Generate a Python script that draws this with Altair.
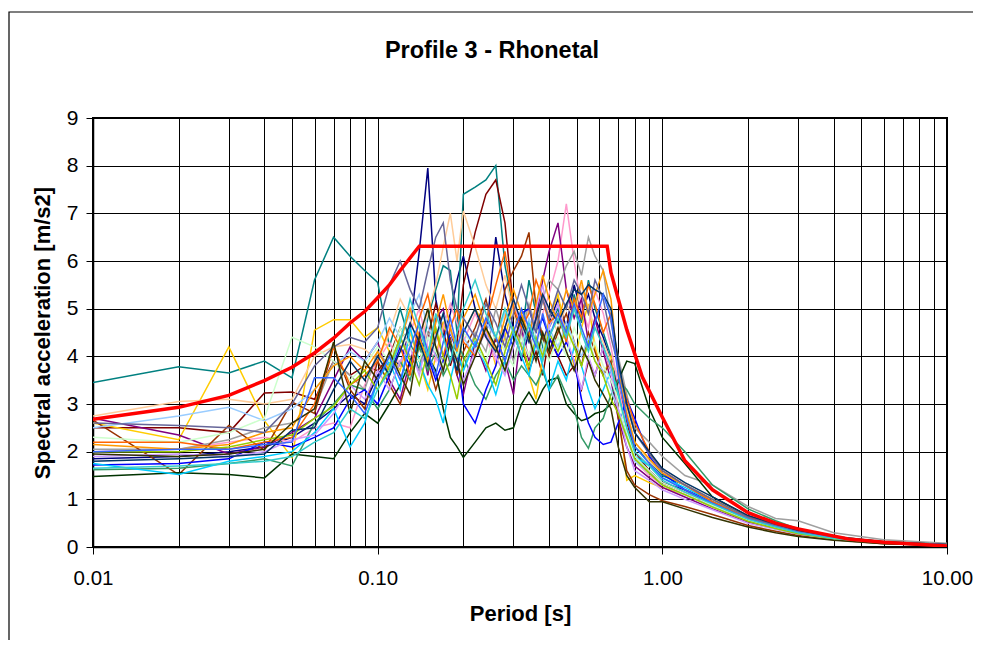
import altair as alt
import pandas as pd

# Period grid shared by the recorded spectra [s]
periods = [0.01, 0.02, 0.03, 0.04, 0.05, 0.06, 0.07, 0.08, 0.09, 0.10,
           0.11, 0.12, 0.13, 0.14, 0.15, 0.16, 0.17, 0.18, 0.19, 0.20,
           0.22, 0.24, 0.26, 0.28, 0.30, 0.32, 0.34, 0.36, 0.38, 0.40,
           0.43, 0.46, 0.49, 0.52, 0.55, 0.58, 0.62, 0.66, 0.70, 0.75, 0.80,
           0.90, 1.0, 1.2, 1.5, 2.0, 2.5, 3.0, 4.0, 6.0, 10.0]

# Design (target) spectrum, red
red_periods = [0.01, 0.02, 0.03, 0.04, 0.05, 0.06, 0.07, 0.08, 0.09, 0.10,
               0.11, 0.12, 0.14, 0.64, 0.66, 0.75, 0.85, 1.0, 1.2, 1.5,
               2.0, 2.5, 3.0, 4.5, 6.0, 10.0]
red_values = [2.68, 2.93, 3.18, 3.49, 3.77, 4.07, 4.38, 4.7, 4.94, 5.23,
              5.5, 5.8, 6.31, 6.31, 5.76, 4.56, 3.57, 2.72, 1.81, 1.2,
              0.72, 0.5, 0.38, 0.17, 0.1, 0.02]

navy = ([1.85, 1.9, 2.0, 2.1, 2.3, 2.6, 2.9, 3.2, 3.0, 3.6]
        + [4.0, 3.8, 4.6, 6.2, 7.95, 5.2, 4.4, 4.9, 5.6, 6.1]
        + [5.0, 4.4, 6.5, 5.3, 4.6, 3.9, 4.5, 5.0, 4.3, 4.7]
        + [5.2, 4.6, 5.5, 4.9, 5.3, 4.8, 4.4, 3.9, 3.2, 2.4, 1.9]
        + [1.6, 1.35, 1.2, 0.95, 0.6, 0.44, 0.32, 0.2, 0.1, 0.045])
teal = ([3.45, 3.78, 3.65, 3.9, 3.55, 5.6, 6.5, 6.1, 5.8, 5.55]
        + [4.2, 5.0, 4.3, 3.7, 4.8, 5.4, 5.9, 5.8, 4.5, 7.4]
        + [7.55, 7.7, 8.0, 5.9, 5.0, 4.4, 5.6, 4.9, 4.2, 4.6]
        + [5.0, 4.3, 5.3, 4.7, 5.6, 5.0, 4.5, 4.0, 3.3, 2.7, 2.1]
        + [1.8, 1.5, 1.3, 1.0, 0.62, 0.45, 0.33, 0.21, 0.1, 0.05])
darkred = ([2.5, 2.5, 2.4, 3.23, 3.25, 3.1, 3.9, 3.6, 3.8, 3.7]
           + [4.0, 4.6, 4.2, 3.9, 4.4, 5.1, 4.6, 3.8, 4.3, 5.5]
           + [6.6, 7.4, 7.7, 6.8, 5.0, 4.2, 3.7, 4.1, 3.6, 4.4]
           + [4.0, 3.6, 3.8, 3.3, 3.9, 3.6, 4.2, 3.7, 3.4, 2.6, 2.0]
           + [1.6, 1.35, 1.15, 0.9, 0.58, 0.42, 0.3, 0.19, 0.1, 0.045])
gold = ([2.6, 2.25, 4.2, 2.65, 1.88, 4.55, 4.77, 4.77, 4.4, 4.6]
        + [4.1, 3.7, 4.5, 3.9, 3.3, 4.0, 4.7, 4.3, 3.6, 4.5]
        + [5.0, 4.6, 3.8, 4.4, 5.1, 4.5, 3.6, 3.1, 4.0, 4.8]
        + [5.3, 4.4, 3.8, 4.6, 5.1, 4.2, 3.6, 4.0, 2.9, 1.4, 1.5]
        + [1.35, 1.25, 1.1, 0.85, 0.55, 0.4, 0.3, 0.18, 0.09, 0.04])
tan = ([2.75, 3.05, 3.1, 3.0, 3.1, 4.0, 4.2, 4.25, 4.15, 3.9]
       + [4.5, 5.2, 4.8, 4.1, 4.9, 5.5, 6.3, 7.0, 6.0, 7.05]
       + [6.3, 5.5, 5.0, 5.7, 4.9, 4.4, 5.0, 4.6, 5.3, 4.9]
       + [4.5, 5.1, 4.8, 5.5, 5.0, 4.6, 4.3, 3.9, 3.6, 2.9, 2.2]
       + [1.8, 1.55, 1.3, 1.0, 0.63, 0.46, 0.34, 0.21, 0.11, 0.05])
rose = ([2.0, 2.05, 2.2, 2.3, 2.2, 2.5, 2.6, 2.5, 3.4, 3.9]
        + [4.3, 3.8, 4.5, 5.0, 4.2, 3.9, 4.6, 5.1, 4.7, 4.3]
        + [4.9, 4.4, 3.9, 4.6, 5.2, 4.5, 4.0, 4.3, 4.9, 5.3]
        + [6.0, 7.2, 6.0, 5.0, 4.6, 5.4, 4.9, 4.2, 3.4, 2.5, 1.8]
        + [1.5, 1.3, 1.1, 0.85, 0.55, 0.4, 0.29, 0.18, 0.09, 0.04])
purple = ([2.7, 2.35, 1.95, 2.1, 2.4, 2.7, 3.5, 4.2, 3.9, 4.3]
          + [3.5, 3.1, 3.9, 4.5, 3.6, 4.8, 5.0, 4.2, 3.6, 3.2]
          + [4.3, 3.7, 4.4, 3.9, 3.2, 4.6, 3.9, 4.8, 5.6, 6.2]
          + [6.8, 5.4, 4.8, 5.2, 4.3, 4.8, 4.1, 3.5, 2.7, 2.1, 1.7]
          + [1.45, 1.25, 1.05, 0.8, 0.52, 0.38, 0.28, 0.17, 0.09, 0.04])
gray = ([2.05, 2.05, 2.25, 2.5, 2.6, 2.9, 3.9, 3.6, 3.3, 4.1]
        + [3.8, 4.4, 4.0, 3.7, 4.5, 4.2, 3.9, 4.6, 4.1, 3.7]
        + [4.5, 4.1, 5.0, 4.4, 3.9, 4.5, 5.1, 4.6, 5.2, 5.6]
        + [5.4, 5.9, 6.2, 5.7, 6.5, 6.1, 5.8, 4.7, 4.0, 3.2, 2.5]
        + [2.2, 1.9, 1.5, 1.3, 0.85, 0.6, 0.55, 0.3, 0.15, 0.08])
brown = ([2.66, 1.52, 2.55, 2.03, 3.04, 2.8, 4.2, 3.3, 2.9, 3.9]
         + [3.4, 3.0, 3.7, 4.3, 3.9, 3.3, 3.8, 4.4, 3.6, 4.1]
         + [4.6, 5.2, 4.3, 5.4, 5.8, 6.1, 6.6, 5.0, 4.4, 4.0]
         + [4.5, 4.9, 4.3, 3.8, 4.5, 4.1, 3.6, 3.9, 2.7, 1.6, 1.3]
         + [1.1, 0.97, 0.85, 0.68, 0.45, 0.33, 0.24, 0.15, 0.07, 0.03])
darkgreen = ([1.48, 1.56, 1.52, 1.45, 1.95, 1.9, 1.85, 2.4, 2.8, 2.6]
             + [3.0, 3.4, 3.9, 4.3, 4.0, 3.7, 2.9, 2.3, 2.1, 1.88]
             + [2.2, 2.5, 2.6, 2.45, 2.5, 3.0, 3.25, 3.0, 3.3, 3.5]
             + [3.55, 3.0, 2.8, 2.65, 2.7, 2.8, 2.85, 3.0, 3.5, 3.9, 3.85]
             + [2.9, 2.3, 1.75, 1.05, 0.65, 0.47, 0.34, 0.21, 0.1, 0.045])
seagreen = ([1.62, 1.65, 1.75, 1.85, 1.7, 2.6, 3.0, 3.4, 3.3, 2.9]
            + [3.3, 3.9, 3.5, 4.2, 3.7, 4.1, 3.6, 3.9, 4.3, 4.0]
            + [3.4, 3.1, 3.6, 3.9, 3.5, 3.8, 3.6, 3.4, 3.7, 3.3]
            + [3.6, 3.2, 2.9, 2.3, 2.07, 2.5, 2.7, 3.2, 3.5, 3.3, 3.0]
            + [2.7, 2.5, 2.0, 1.3, 0.8, 0.55, 0.38, 0.22, 0.11, 0.05])
blue = ([1.72, 1.75, 1.85, 2.2, 2.1, 2.3, 2.5, 3.1, 3.3, 3.0]
        + [3.6, 4.2, 3.8, 4.4, 4.0, 3.5, 3.9, 4.5, 4.1, 3.0]
        + [2.6, 3.3, 3.8, 4.6, 4.2, 4.9, 5.0, 4.5, 4.8, 4.4]
        + [4.0, 4.3, 3.9, 3.1, 2.6, 2.3, 2.15, 2.2, 2.6, 3.1, 2.7]
        + [1.9, 1.55, 1.2, 0.9, 0.58, 0.42, 0.3, 0.19, 0.09, 0.04])
skyblue = ([1.75, 1.52, 1.8, 1.9, 2.0, 2.4, 2.9, 2.1, 2.6, 3.5]
           + [3.9, 3.3, 4.6, 3.9, 3.4, 3.1, 2.6, 3.5, 4.1, 3.7]
           + [4.3, 3.8, 3.2, 3.9, 4.5, 4.0, 3.6, 4.3, 3.8, 3.3]
           + [3.9, 3.5, 4.2, 3.8, 3.3, 2.9, 3.3, 3.7, 3.2, 2.5, 1.9]
           + [1.7, 1.45, 1.25, 0.95, 0.6, 0.43, 0.31, 0.19, 0.1, 0.045])
paleblue = ([2.5, 2.75, 2.93, 2.65, 2.9, 3.3, 3.8, 4.1, 3.9, 4.3]
            + [4.8, 4.4, 4.9, 5.3, 4.6, 4.3, 4.9, 4.5, 4.2, 4.4]
            + [4.0, 4.7, 4.4, 4.9, 4.5, 4.2, 4.8, 4.4, 4.1, 4.6]
            + [4.2, 4.7, 4.3, 4.0, 4.4, 3.9, 3.7, 3.3, 2.9, 2.3, 1.8]
            + [1.55, 1.3, 1.1, 0.85, 0.55, 0.4, 0.29, 0.18, 0.09, 0.04])
lavender = ([1.9, 1.95, 1.9, 2.0, 2.25, 2.35, 2.8, 3.4, 3.1, 3.7]
            + [3.3, 3.9, 4.2, 3.6, 4.4, 4.0, 3.7, 4.3, 3.9, 3.5]
            + [4.1, 4.5, 4.0, 3.6, 4.2, 4.7, 4.3, 5.0, 5.5, 4.6]
            + [5.1, 4.4, 3.9, 3.3, 4.0, 3.6, 4.2, 3.7, 2.9, 2.1, 1.6]
            + [1.4, 1.2, 1.0, 0.78, 0.5, 0.37, 0.27, 0.17, 0.085, 0.04])
lightgreen = ([2.3, 2.2, 2.4, 2.7, 4.4, 4.2, 3.9, 3.5, 3.8, 4.2]
              + [3.9, 4.6, 4.2, 3.9, 4.4, 4.1, 3.8, 4.3, 4.0, 4.5]
              + [4.2, 3.9, 4.5, 4.1, 3.8, 4.4, 4.0, 4.6, 4.3, 3.9]
              + [4.4, 4.0, 4.6, 4.2, 3.9, 4.3, 3.8, 3.5, 3.1, 2.4, 1.9]
              + [1.6, 1.35, 1.15, 0.88, 0.57, 0.41, 0.3, 0.18, 0.09, 0.04])
orange = ([2.2, 2.2, 2.05, 2.2, 2.3, 3.0, 4.2, 3.4, 3.6, 3.9]
          + [4.6, 4.2, 3.6, 4.8, 5.3, 4.5, 4.0, 4.6, 5.0, 4.3]
          + [4.0, 4.7, 5.5, 6.2, 5.0, 4.6, 4.9, 5.6, 5.2, 4.7]
          + [4.9, 4.3, 5.2, 4.8, 5.5, 5.1, 4.5, 4.9, 3.8, 3.1, 2.6]
          + [2.0, 1.6, 1.3, 0.95, 0.6, 0.44, 0.32, 0.2, 0.1, 0.045])
lightorange = ([2.15, 2.05, 2.15, 2.4, 2.5, 3.3, 3.8, 4.0, 3.7, 4.1]
               + [3.7, 4.3, 5.0, 4.4, 3.9, 4.7, 5.3, 4.6, 4.1, 4.8]
               + [5.3, 4.6, 4.1, 4.8, 5.4, 4.9, 4.4, 5.1, 5.7, 5.2]
               + [4.7, 5.4, 5.0, 5.6, 4.9, 5.3, 5.8, 5.2, 3.7, 2.8, 2.2]
               + [1.85, 1.55, 1.3, 1.0, 0.64, 0.46, 0.34, 0.21, 0.1, 0.05])
lime = ([2.0, 2.0, 2.1, 2.25, 2.35, 2.7, 2.95, 3.4, 3.7, 3.3]
        + [3.8, 4.4, 3.9, 3.4, 4.1, 4.6, 4.0, 3.6, 3.1, 3.9]
        + [4.4, 3.9, 3.4, 4.1, 4.6, 4.2, 3.8, 4.4, 4.0, 4.5]
        + [4.1, 4.6, 4.2, 3.8, 4.3, 3.9, 3.6, 3.1, 2.8, 2.3, 1.85]
        + [1.55, 1.3, 1.1, 0.84, 0.54, 0.39, 0.28, 0.17, 0.085, 0.04])
bluegray = ([2.6, 2.55, 2.5, 2.4, 3.0, 3.8, 4.2, 4.4, 4.3, 4.6]
            + [5.5, 6.0, 5.4, 5.0, 5.8, 6.5, 6.8, 5.6, 5.0, 4.8]
            + [4.4, 5.1, 4.7, 4.2, 4.9, 5.5, 5.0, 4.5, 5.2, 4.8]
            + [5.4, 5.0, 5.6, 5.3, 4.9, 5.6, 5.2, 4.4, 3.8, 3.0, 2.4]
            + [1.95, 1.6, 1.3, 1.0, 0.63, 0.46, 0.34, 0.21, 0.1, 0.05])
darkteal = ([1.8, 1.85, 1.9, 1.95, 2.45, 2.5, 3.3, 3.9, 3.5, 4.0]
            + [3.6, 4.1, 4.7, 4.3, 3.8, 4.4, 4.9, 4.2, 3.7, 4.5]
            + [5.0, 4.4, 4.1, 4.6, 5.2, 4.7, 4.3, 4.8, 5.3, 5.0]
            + [4.7, 5.1, 5.4, 5.3, 5.5, 5.4, 5.3, 5.0, 3.9, 3.0, 2.4]
            + [2.0, 1.65, 1.35, 1.05, 0.66, 0.48, 0.35, 0.22, 0.11, 0.05])
olive = ([1.95, 1.9, 1.95, 2.05, 2.6, 2.9, 4.3, 2.8, 3.9, 3.5]
         + [4.1, 3.6, 3.2, 4.4, 5.0, 4.2, 3.7, 4.3, 3.9, 3.4]
         + [4.0, 4.6, 4.2, 3.7, 4.3, 4.8, 4.4, 3.9, 4.5, 4.1]
         + [4.6, 4.1, 3.7, 4.2, 3.9, 3.5, 3.2, 2.9, 2.1, 1.5, 1.25]
         + [0.95, 0.95, 0.8, 0.62, 0.42, 0.3, 0.22, 0.14, 0.07, 0.03])
lightblue = ([2.0, 2.05, 2.05, 2.15, 2.2, 3.55, 3.55, 3.2, 2.8, 3.5]
             + [4.0, 3.5, 4.2, 4.7, 4.1, 3.6, 4.3, 4.8, 4.2, 4.6]
             + [4.2, 4.8, 4.4, 3.9, 4.5, 5.0, 4.6, 4.2, 4.9, 4.4]
             + [4.9, 4.5, 5.1, 4.6, 4.2, 4.7, 5.3, 4.8, 3.6, 2.7, 2.1]
             + [1.75, 1.45, 1.2, 0.92, 0.59, 0.43, 0.31, 0.19, 0.095, 0.045])
aqua = ([1.65, 1.7, 1.75, 1.8, 1.9, 2.2, 2.4, 2.9, 2.7, 3.3]
        + [3.7, 4.3, 5.2, 4.6, 4.0, 4.9, 4.4, 3.9, 4.5, 5.0]
        + [5.6, 4.9, 4.4, 5.0, 4.5, 4.0, 4.7, 4.3, 3.9, 4.4]
        + [4.8, 4.4, 5.0, 4.5, 4.1, 4.6, 4.2, 3.8, 3.2, 2.5, 2.0]
        + [1.7, 1.4, 1.15, 0.9, 0.58, 0.42, 0.3, 0.18, 0.09, 0.04])

series_names = ["navy", "teal", "darkred", "gold", "tan", "rose", "purple", "gray",
                "brown", "darkgreen", "seagreen", "blue", "skyblue", "paleblue",
                "lavender", "lightgreen", "orange", "lightorange", "lime", "bluegray",
                "darkteal", "olive", "lightblue", "aqua"]
series_colors = ["#000080", "#008080", "#800000", "#FFCC00", "#FFCC99", "#FF99CC",
                 "#800080", "#A0A0A0", "#993300", "#003300", "#339966", "#0000FF",
                 "#00CCFF", "#99CCFF", "#CC99FF", "#CCFFCC", "#FF6600", "#FF9900",
                 "#99CC00", "#666699", "#003366", "#333300", "#3366FF", "#33CCCC"]
series_values = [navy, teal, darkred, gold, tan, rose, purple, gray, brown, darkgreen,
                 seagreen, blue, skyblue, paleblue, lavender, lightgreen, orange,
                 lightorange, lime, bluegray, darkteal, olive, lightblue, aqua]

x_ticks = [0.01, 0.02, 0.03, 0.04, 0.05, 0.06, 0.07, 0.08, 0.09,
           0.1, 0.2, 0.3, 0.4, 0.5, 0.6, 0.7, 0.8, 0.9,
           1, 2, 3, 4, 5, 6, 7, 8, 9, 10]
y_ticks = [0, 1, 2, 3, 4, 5, 6, 7, 8, 9]
title_text = ["Profile 3 - Rhonetal"]

rows = []
for name, vals in zip(series_names, series_values):
    assert len(vals) == len(periods), (name, len(vals))
    for t, v in zip(periods, vals):
        rows.append({"period": t, "sa": v, "series": name})
df = pd.DataFrame(rows)
red_df = pd.DataFrame({"period": red_periods, "sa": red_values})

FONT = "Liberation Sans"
is_major = "datum.value == 0.01 || datum.value == 0.1 || datum.value == 1 || datum.value == 10"

x_enc = alt.X(
    "period:Q",
    scale=alt.Scale(type="log", domain=[0.01, 10]),
    axis=alt.Axis(
        values=x_ticks,
        labelExpr=f"({is_major}) ? format(datum.value, '.2f') : ''",
        labelFlush=False,
        labelOverlap=False,
        labelFontSize=20.5,
        grid=True,
        tickSize=7,
        tickOpacity={"condition": {"test": is_major, "value": 1}, "value": 0},
        labelPadding=14,
        title="Period [s]",
        titlePadding=15,
    ),
)
y_enc = alt.Y(
    "sa:Q",
    scale=alt.Scale(domain=[0, 9], nice=False),
    axis=alt.Axis(
        values=y_ticks,
        format="d",
        grid=True,
        tickSize=7,
        labelPadding=8,
        title="Spectral acceleration [m/s2]",
        titlePadding=12,
    ),
)

lines = alt.Chart(df).mark_line(strokeWidth=1.5, clip=True).encode(
    x=x_enc,
    y=y_enc,
    color=alt.Color("series:N", scale=alt.Scale(domain=series_names, range=series_colors),
                    legend=None),
)

design = alt.Chart(red_df).mark_line(color="#FF0000", strokeWidth=3.5, clip=True).encode(
    x="period:Q",
    y="sa:Q",
)

frame = alt.Chart(pd.DataFrame({"k": [0]})).mark_rect(
    fillOpacity=0, stroke="#000000", strokeWidth=1.2
).encode(
    x=alt.value(-84), x2=alt.value(900), y=alt.value(-106), y2=alt.value(560)
)

title = alt.Chart(pd.DataFrame({"t": title_text})).mark_text(
    font=FONT, fontSize=23.5, fontWeight="bold", color="#000000",
    align="center", baseline="alphabetic",
).encode(text="t:N", x=alt.value(399), y=alt.value(-60))

chart = alt.layer(frame, lines, design, title).properties(
    width=854,
    height=429,
    background="#ffffff",
    autosize=alt.AutoSizeParams(type="none"),
    padding={"left": 85, "top": 110, "right": 26, "bottom": 93},
).configure_axis(
    labelFont=FONT, labelFontSize=21, labelColor="#000000",
    titleFont=FONT, titleFontSize=22, titleFontWeight="bold", titleColor="#000000",
    gridColor="#000000", gridWidth=1, gridOpacity=1,
    domainColor="#000000", domainWidth=1.5, tickColor="#000000", tickWidth=1,
).configure_view(
    stroke="#000000", strokeWidth=2
)

chart.save("out.html", embed_options={"renderer": "svg", "actions": False})
